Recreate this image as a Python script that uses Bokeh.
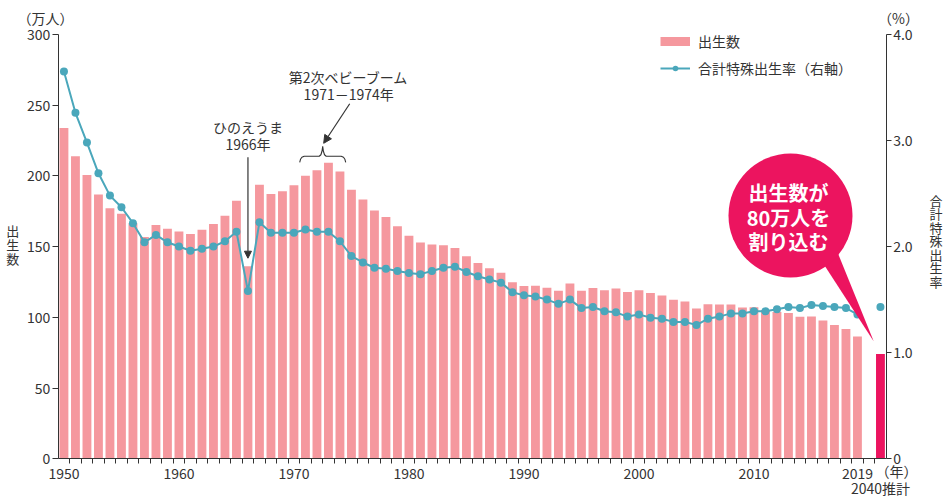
from bokeh.plotting import figure
from bokeh.models import (Range1d, LinearAxis, FixedTicker, Label, Arrow,
                          NormalHead, Legend, LegendItem, ColumnDataSource)
from bokeh.embed import file_html
from bokeh.resources import INLINE

# ---------------- data ----------------
years = list(range(1950, 2020))
births = [233.7, 213.8, 200.5, 186.8, 177.0, 173.1, 166.5, 156.7, 165.3, 162.6,
          160.6, 158.9, 161.9, 166.0, 171.7, 182.4, 136.1, 193.6, 187.2, 189.0,
          193.4, 200.1, 203.9, 209.2, 203.0, 190.1, 183.3, 175.5, 170.9, 164.3,
          157.7, 152.9, 151.5, 150.9, 149.0, 143.2, 138.3, 134.7, 131.4, 124.7,
          122.2, 122.3, 120.9, 118.8, 123.8, 118.7, 120.7, 119.2, 120.3, 117.8,
          119.1, 117.1, 115.4, 112.4, 111.1, 106.3, 109.3, 109.0, 109.1, 107.0,
          107.1, 105.1, 103.7, 103.0, 100.4, 100.6, 97.7, 94.6, 91.8, 86.5]
tfr = [3.65, 3.26, 2.98, 2.69, 2.48, 2.37, 2.22, 2.04, 2.11, 2.04,
       2.00, 1.96, 1.98, 2.00, 2.05, 2.14, 1.58, 2.23, 2.13, 2.13,
       2.13, 2.16, 2.14, 2.14, 2.05, 1.91, 1.85, 1.80, 1.79, 1.77,
       1.75, 1.74, 1.77, 1.80, 1.81, 1.76, 1.72, 1.69, 1.66, 1.57,
       1.54, 1.53, 1.50, 1.46, 1.50, 1.42, 1.43, 1.39, 1.38, 1.34,
       1.36, 1.33, 1.32, 1.29, 1.29, 1.26, 1.32, 1.34, 1.37, 1.37,
       1.39, 1.39, 1.41, 1.43, 1.42, 1.45, 1.44, 1.43, 1.42, 1.36]
proj_year_label = "2040推計"
proj_births = 74.0
proj_tfr = 1.43
label_years = [1950, 1960, 1970, 1980, 1990, 2000, 2010, 2019]
left_ticks = [0, 50, 100, 150, 200, 250, 300]
right_ticks = [0, 1, 2, 3, 4]
right_tick_labels = ["0", "1.0", "2.0", "3.0", "4.0"]
left_title = "出生数"
right_title = "合計特殊出生率"

# ---------------- styles / layout ----------------
FONT = "Noto Sans CJK JP"
TXT = "#333333"
PINK = "#F5989E"
TEAL = "#4AA7BB"
MAG = "#EC145F"

W, H = 945, 497
AX_L, AX_R, AX_T, AX_B = 57.7, 885.7, 33.8, 458.3     # axis box in pixels

xpos = [y - years[0] for y in years]
proj_x = len(years) + 1          # one empty slot, then 2040
X0, X1 = -0.5, proj_x + 0.5
Y0, Y1 = 0, 300
R0, R1 = 0, 4
SX = (AX_R - AX_L) / (X1 - X0)
SY = (AX_B - AX_T) / (Y1 - Y0)
SR = (AX_B - AX_T) / (R1 - R0)

def px_x(px):          # pixel -> data x
    return X0 + (px - AX_L) / SX
def px_y(py):          # pixel -> data y (births)
    return Y0 + (AX_B - py) / SY
def dx(px):
    return px / SX
def dy(px):
    return px / SY

p = figure(width=W, height=H, output_backend="svg", toolbar_location=None,
           title=None, x_axis_type=None, y_axis_type=None,
           x_range=Range1d(px_x(0), px_x(W)), y_range=Range1d(px_y(H), px_y(0)),
           min_border=0, min_border_left=0, min_border_right=0,
           min_border_top=0, min_border_bottom=0)
p.extra_y_ranges = {"rate": Range1d(R0 - (H - AX_B) / SR, R1 + AX_T / SR)}
p.outline_line_color = None
p.background_fill_color = "white"
p.border_fill_color = "white"

# x axis
xa = LinearAxis(fixed_location=0, bounds=(X0, X1),
                ticker=FixedTicker(ticks=[y - years[0] for y in label_years],
                                   minor_ticks=[k + 0.5 for k in range(proj_x)]),
                major_label_overrides={y - years[0]: str(y) for y in label_years})
xa.major_tick_line_color = None
xa.minor_tick_line_color = TXT
xa.minor_tick_out = 5
xa.minor_tick_in = 0
xa.major_label_standoff = 3
p.add_layout(xa, "below")

# left axis
ya = LinearAxis(fixed_location=X0, bounds=(Y0, Y1),
                ticker=FixedTicker(ticks=left_ticks, minor_ticks=[]))
ya.major_tick_out = 6
ya.major_tick_in = 0
ya.major_label_standoff = 2
p.add_layout(ya, "left")

# right axis
ra = LinearAxis(y_range_name="rate", fixed_location=X1, bounds=(R0, R1),
                ticker=FixedTicker(ticks=right_ticks, minor_ticks=[]),
                major_label_overrides={t: l for t, l in zip(right_ticks, right_tick_labels)})
ra.major_tick_out = 5
ra.major_tick_in = 0
ra.major_label_standoff = 2
p.add_layout(ra, "right")

for ax in [xa, ya, ra]:
    ax.axis_line_color = TXT
    ax.major_label_text_font = FONT
    ax.major_label_text_font_size = "14px"
    ax.major_label_text_color = TXT
ya.major_tick_line_color = TXT
ra.major_tick_line_color = TXT

# bars
src = ColumnDataSource(dict(x=xpos, births=births, tfr=tfr))
p.vbar(x="x", top="births", width=0.77, source=src, fill_color=PINK, line_color=None)
p.vbar(x=[proj_x], top=[proj_births], width=0.77, fill_color=MAG, line_color=None)

# fertility line
lr = p.line(x="x", y="tfr", source=src, y_range_name="rate", line_color=TEAL, line_width=2)
sr = p.scatter(x="x", y="tfr", source=src, y_range_name="rate", size=8,
               fill_color=TEAL, line_color=None)
p.scatter(x=[proj_x], y=[proj_tfr], y_range_name="rate", size=8,
          fill_color=TEAL, line_color=None)

# legend (swatch for the bars drawn as a thick line, as in the original)
nan = float("nan")
dummy = p.line(x=[nan, nan], y=[nan, nan], line_color=PINK, line_width=9,
               line_cap="butt")
legend = Legend(items=[LegendItem(label="出生数", renderers=[dummy]),
                       LegendItem(label="合計特殊出生率（右軸）", renderers=[lr, sr])],
                location=(660, 419), padding=0, margin=0, border_line_color=None,
                background_fill_alpha=0, glyph_width=30, glyph_height=14,
                label_height=14, label_standoff=8, spacing=7,
                label_text_font=FONT, label_text_font_size="14px",
                label_text_color=TXT, label_text_baseline="middle")
p.add_layout(legend)

def lab(text, x, y, size="14px", color=TXT, align="center", style="normal"):
    p.add_layout(Label(x=x, y=y, text=text, text_font=FONT, text_font_size=size,
                       text_color=color, text_align=align, text_baseline="middle",
                       text_font_style=style))

# unit / axis titles
lab("（万人）", px_x(45), px_y(17.5))
lab("（%）", px_x(898), px_y(17))
lab("（年）", px_x(896), px_y(470.5))
lab(proj_year_label, proj_x, px_y(487.5))
for i, ch in enumerate(left_title):            # vertical, stacked
    lab(ch, px_x(12.3), px_y(230 + 14 * i), size="13px")
for i, ch in enumerate(right_title):
    lab(ch, px_x(935.5), px_y(199.5 + 13.5 * i), size="13px")

# hinoeuma annotation
hx = 1966 - years[0]
lab("ひのえうま", hx, births[hx] + dy(139))
lab("1966年", hx, births[hx] + dy(122))
p.add_layout(Arrow(end=NormalHead(size=7, fill_color=TXT, line_color=TXT),
                   x_start=hx, y_start=births[hx] + dy(109), x_end=hx,
                   y_end=births[hx] + dy(8), line_color=TXT, line_width=1.2))

# baby boom annotation
b0, b1 = 1971 - years[0], 1974 - years[0]
bm = (b0 + b1) / 2
top_b = max(births[b0:b1 + 1])
lab("第2次ベビーブーム", bm + dx(26), top_b + dy(86))
lab("1971－1974年", bm + dx(26), top_b + dy(69))
p.add_layout(Arrow(end=NormalHead(size=8, fill_color=TXT, line_color=TXT),
                   x_start=bm + dx(27), y_start=top_b + dy(59), x_end=bm + dx(1),
                   y_end=top_b + dy(19.5), line_color=TXT, line_width=1.2))
yb = top_b + dy(0.5)
xl, xr = b0 - 0.5, b1 + 0.5
bx = [xl, xl + dx(0.8), xl + dx(2.2), xl + dx(4.5), bm - dx(3.5), bm - dx(1.8), bm - dx(0.7), bm,
      bm + dx(0.7), bm + dx(1.8), bm + dx(3.5), xr - dx(4.5), xr - dx(2.2), xr - dx(0.8), xr]
by = [yb, yb + dy(3), yb + dy(5), yb + dy(6), yb + dy(6), yb + dy(7.5), yb + dy(11), yb + dy(16),
      yb + dy(11), yb + dy(7.5), yb + dy(6), yb + dy(6), yb + dy(5), yb + dy(3), yb]
p.line(bx, by, line_color=TXT, line_width=1.1)

# speech bubble
cx, cy = px_x(790), px_y(215)
p.patch([px_x(873.3), px_x(831.3), px_x(811.8)], [px_y(341), px_y(237.8), px_y(246.1)],
        fill_color=MAG, line_color=None)
p.scatter(x=[cx], y=[cy], size=124, marker="circle", fill_color=MAG, line_color=None)
lab("出生数が", px_x(788), px_y(191.5), size="20px", color="white", style="bold")
lab("80万人を", px_x(788), px_y(217), size="20px", color="white", style="bold")
lab("割り込む", px_x(788), px_y(240.5), size="20px", color="white", style="bold")

open("out.html", "w").write(file_html(p, INLINE))
